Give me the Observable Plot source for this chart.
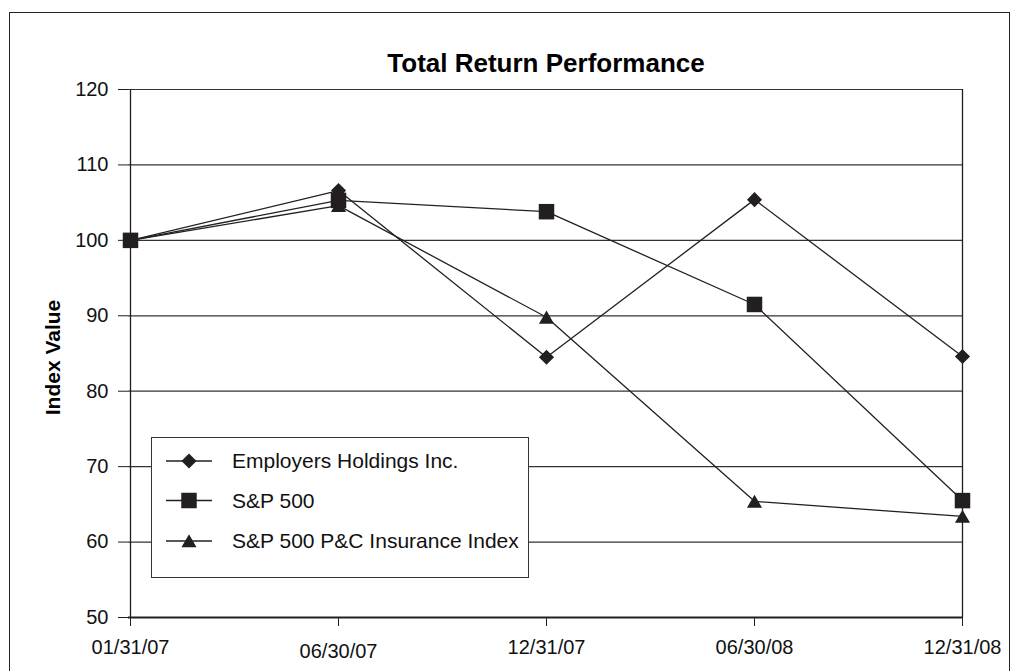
<!DOCTYPE html>
<html>
<head>
<meta charset="utf-8">
<script src="https://cdn.jsdelivr.net/npm/d3@7"></script>
<script src="https://cdn.jsdelivr.net/npm/@observablehq/plot@0.6"></script>
<style>
  html, body { margin: 0; padding: 0; background: #fff; overflow: hidden; }
  #wrap { position: relative; width: 1018px; height: 671px; font-family: "Liberation Sans", Arial, Helvetica, sans-serif; }
  #border { position: absolute; left: 9px; top: 12px; width: 1001px; height: 700px; border: 1.5px solid #222; box-sizing: border-box; pointer-events: none; }
  #legend { position: absolute; left: 151px; top: 437px; width: 378px; height: 141px; background: #fff; border: 1.5px solid #333; box-sizing: border-box; }
  #legend svg { position: absolute; left: -1.5px; top: -1.5px; overflow: visible; }
</style>
</head>
<body>
<div id="wrap">
  <div id="chart"></div>
  <div id="legend"></div>
  <div id="border"></div>
</div>
<script>
const dates = ["01/31/07", "06/30/07", "12/31/07", "06/30/08", "12/31/08"];
const employers = [100, 106.6, 84.5, 105.4, 84.6];
const sp500 = [100, 105.3, 103.8, 91.5, 65.5];
const pcIndex = [100, 104.6, 89.8, 65.4, 63.4];
const seriesNames = ["Employers Holdings Inc.", "S&P 500", "S&P 500 P&C Insurance Index"];
const seriesSymbols = ["diamond2", "square", "triangle"];
const yTicks = [50, 60, 70, 80, 90, 100, 110, 120];
const gridTicks = [60, 70, 80, 90, 100, 110, 120];
const title = "Total Return Performance";
const yLabel = "Index Value";

const ink = "#231f20";
const seriesValues = [employers, sp500, pcIndex];
const rows = [];
seriesNames.forEach((name, i) => {
  dates.forEach((d, j) => rows.push({series: name, date: d, value: seriesValues[i][j]}));
});
const symbolR = {diamond2: 6.8, square: 8.74, triangle: 5.6};
const symbolDy = {diamond2: 0, square: 0, triangle: 2};

const marks = [
  Plot.gridY(gridTicks, {stroke: "#333", strokeOpacity: 1, strokeWidth: 1.2}),
  Plot.ruleX([dates[0]], {stroke: ink, strokeWidth: 1.3}),
  Plot.ruleX([dates[dates.length - 1]], {stroke: ink, strokeWidth: 1.3}),
  Plot.ruleY([50], {stroke: ink, strokeWidth: 2.2}),
  Plot.axisY(yTicks, {tickSize: 10, tickPadding: 10, fontSize: 20, stroke: ink, color: "#111", label: null}),
  Plot.axisX(dates.filter(d => d !== "06/30/07"), {tickSize: 9, tickPadding: 13, fontSize: 20, stroke: ink, color: "#111", label: null}),
  Plot.axisX(["06/30/07"], {tickSize: 9, tickPadding: 13, fontSize: 20, stroke: ink, color: "#111", label: null, text: null}),
  Plot.text(["06/30/07"], {x: d => d, frameAnchor: "bottom", dy: 26.5, lineAnchor: "top", fontSize: 20, fill: "#111"})
];
seriesNames.forEach((name, i) => {
  const data = rows.filter(r => r.series === name);
  marks.push(Plot.line(data, {x: "date", y: "value", stroke: ink, strokeWidth: 1.3}));
});
seriesNames.forEach((name, i) => {
  const data = rows.filter(r => r.series === name);
  const sym = seriesSymbols[i];
  marks.push(Plot.dot(data, {x: "date", y: "value", symbol: () => sym, r: symbolR[sym], fill: ink, stroke: "none", dy: symbolDy[sym]}));
});
marks.push(Plot.text([title], {frameAnchor: "top", dy: -36, fontSize: 26, fontWeight: "bold", fill: "#000"}));
marks.push(Plot.text([yLabel], {frameAnchor: "left", textAnchor: "middle", dx: -75, dy: 4, rotate: -90, fontSize: 21, fontWeight: "bold", fill: "#000"}));

const chart = Plot.plot({
  width: 1018,
  height: 671,
  marginLeft: 128,
  marginRight: 55,
  marginTop: 89,
  marginBottom: 54,
  style: {fontFamily: '"Liberation Sans", Arial, Helvetica, sans-serif', background: "transparent", overflow: "visible"},
  x: {type: "point", domain: dates, padding: 0, axis: null},
  y: {domain: [50, 120], axis: null},
  symbol: {type: "ordinal", domain: seriesSymbols, range: seriesSymbols},
  marks
});
document.getElementById("chart").appendChild(chart);

// Legend
const lw = 378, lh = 141;
const leg = d3.select("#legend").append("svg").attr("width", lw).attr("height", lh);
const rowY = [24, 63.5, 104];
const symMap = {diamond2: d3.symbolDiamond2, square: d3.symbolSquare, triangle: d3.symbolTriangle};
seriesNames.forEach((name, i) => {
  const y = rowY[i];
  const sym = seriesSymbols[i];
  const g = leg.append("g").attr("transform", `translate(0,${y})`);
  g.append("line").attr("x1", 15).attr("x2", 61).attr("y1", 0).attr("y2", 0).attr("stroke", ink).attr("stroke-width", 1.3);
  const r = symbolR[sym];
  g.append("path").attr("d", d3.symbol(symMap[sym], Math.PI * r * r)()).attr("transform", `translate(38,${symbolDy[sym]})`).attr("fill", ink);
  g.append("text").attr("x", 81).attr("y", 0).attr("dy", "0.35em").attr("font-size", 21).attr("fill", "#111")
    .style("font-family", '"Liberation Sans", Arial, Helvetica, sans-serif').text(name);
});
</script>
</body>
</html>
